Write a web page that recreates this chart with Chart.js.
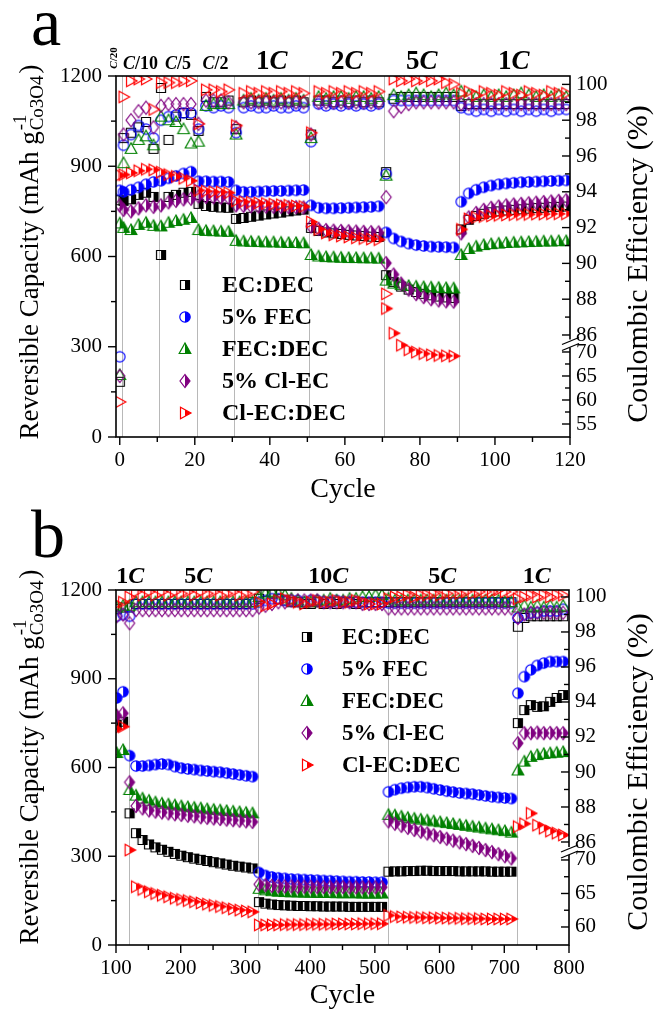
<!DOCTYPE html>
<html>
<head>
<meta charset="utf-8">
<script src="https://cdn.jsdelivr.net/npm/chart.js@4.4.1/dist/chart.umd.min.js"></script>
<style>
  html, body { margin: 0; padding: 0; background: #fff; }
  canvas { display: block; }
</style>
</head>
<body>
<canvas id="chartA" width="657" height="507"></canvas>
<canvas id="chartB" width="657" height="507"></canvas>
<script>
// ---------- data: panel a ----------
const A_CYCLES = [0, 1, 3, 5, 7, 9, 11, 13, 15, 17, 19, 21, 23, 25, 27, 29, 31, 33, 35, 37, 39, 41, 43, 45, 47, 49,
  51, 53, 55, 57, 59, 61, 63, 65, 67, 69, 71, 73, 75, 77, 79, 81, 83, 85, 87, 89,
  91, 93, 95, 97, 99, 101, 103, 105, 107, 109, 111, 113, 115, 117, 119];

const A_CAP_EC_DEC = [787, 785, 790, 805, 812, 798, 605, 798, 805, 812, 815, 775, 768, 765, 763, 762,
  725, 728, 732, 736, 740, 743, 746, 750, 753, 756, 695, 685, 680, 677, 675, 672, 670, 668, 666, 665,
  538, 515, 500, 490, 482, 476, 471, 467, 464, 462,
  690, 722, 735, 742, 747, 750, 753, 755, 757, 759, 761, 762, 764, 765, 766];
const A_CAP_FEC5 = [820, 815, 822, 830, 840, 848, 852, 860, 868, 876, 882, 850, 850, 849, 849, 848,
  820, 815, 815, 816, 817, 818, 818, 819, 820, 821, 770, 762, 760, 760, 761, 762, 763, 764, 765, 767,
  680, 660, 650, 643, 638, 635, 633, 632, 631, 630,
  782, 810, 822, 830, 836, 840, 843, 845, 847, 848, 849, 850, 851, 852, 853];
const A_CAP_FEC_DEC = [710, 695, 688, 705, 712, 702, 700, 712, 718, 722, 728, 688, 685, 684, 683, 682,
  652, 650, 649, 648, 647, 647, 646, 645, 645, 644, 605, 600, 598, 597, 596, 595, 595, 594, 594, 593,
  520, 510, 505, 502, 500, 498, 497, 496, 495, 494,
  605, 625, 633, 638, 641, 643, 645, 646, 647, 648, 649, 650, 650, 651, 651];
const A_CAP_CLEC5 = [770, 755, 750, 760, 770, 765, 770, 780, 785, 790, 792, 800, 798, 797, 796, 795,
  770, 768, 767, 766, 766, 765, 765, 764, 764, 763, 700, 692, 688, 686, 685, 684, 683, 682, 681, 680,
  578, 540, 510, 490, 475, 465, 458, 454, 451, 450,
  677, 730, 745, 755, 762, 766, 770, 773, 775, 777, 779, 781, 783, 785, 787];
const A_CAP_CLEC_DEC = [870, 872, 878, 885, 890, 888, 880, 872, 866, 860, 852, 820, 817, 815, 814, 812,
  785, 782, 780, 778, 776, 774, 772, 770, 768, 766, 715, 690, 678, 672, 668, 665, 662, 660, 658, 656,
  427, 345, 305, 290, 282, 277, 273, 271, 270, 269,
  690, 725, 730, 733, 735, 737, 738, 739, 740, 740, 741, 741, 742, 742, 742];

const A_CE_EC_DEC = [63.8, 97.0, 97.3, 97.6, 97.9, 96.4, 99.8, 96.9, 98.2, 98.4, 98.3, 97.4, 99.3, 99.0, 99.0, 99.1,
  97.5, 99.0, 99.1, 99.0, 99.1, 99.0, 99.1, 99.0, 99.1, 99.0, 97.2, 99.1, 99.1, 99.0, 99.1, 99.0, 99.1, 99.0, 99.1, 99.0,
  95.1, 99.2, 99.3, 99.3, 99.3, 99.3, 99.3, 99.3, 99.3, 99.3,
  98.8, 98.9, 98.9, 98.9, 98.9, 98.9, 98.9, 98.9, 98.9, 98.9, 98.9, 98.9, 98.9, 98.9, 98.9];
const A_CE_FEC5 = [69.0, 96.6, 97.2, 97.7, 97.5, 97.0, 98.0, 98.2, 98.3, 98.4, 98.4, 97.5, 98.8, 98.7, 98.8, 98.7,
  97.3, 98.7, 98.8, 98.7, 98.7, 98.8, 98.7, 98.7, 98.8, 98.7, 96.8, 98.9, 98.8, 98.9, 98.8, 98.9, 98.8, 98.9, 98.8, 98.9,
  95.0, 99.1, 99.1, 99.1, 99.1, 99.1, 99.1, 99.1, 99.1, 99.1,
  98.7, 98.6, 98.5, 98.6, 98.5, 98.6, 98.5, 98.6, 98.5, 98.6, 98.5, 98.6, 98.5, 98.6, 98.6];
const A_CE_FEC_DEC = [65.2, 95.6, 96.4, 96.9, 97.1, 96.6, 98.2, 98.0, 97.9, 97.5, 96.7, 96.8, 98.8, 98.9, 98.9, 98.9,
  97.2, 99.1, 99.2, 99.1, 99.2, 99.1, 99.2, 99.1, 99.2, 99.1, 97.0, 99.3, 99.2, 99.3, 99.3, 99.2, 99.3, 99.3, 99.2, 99.3,
  94.9, 99.4, 99.3, 99.4, 99.5, 99.4, 99.3, 99.4, 99.5, 99.4,
  99.6, 99.4, 99.3, 99.4, 99.3, 99.4, 99.3, 99.4, 99.5, 99.4, 99.3, 99.4, 99.3, 99.4, 99.3];
const A_CE_CLEC5 = [65.0, 97.2, 98.0, 98.5, 98.7, 97.6, 98.8, 98.9, 98.9, 98.9, 98.9, 97.8, 99.1, 99.1, 99.1, 99.0,
  97.6, 99.0, 99.0, 99.0, 99.0, 99.0, 99.0, 99.0, 99.0, 99.0, 97.2, 99.0, 99.0, 99.0, 99.0, 99.0, 99.0, 99.0, 99.0, 99.0,
  93.7, 98.5, 98.75, 98.9, 99.0, 99.0, 99.0, 99.0, 99.0, 99.0,
  98.9, 98.9, 98.9, 98.9, 98.9, 98.9, 98.9, 98.9, 98.9, 98.9, 98.9, 98.9, 98.9, 98.9, 98.9];
const A_CE_CLEC_DEC = [59.6, 99.3, 100.2, 100.3, 100.3, 98.6, 100.1, 100.1, 100.1, 100.2, 100.2, 97.8, 99.7, 99.7, 99.6, 99.7,
  97.7, 99.5, 99.6, 99.5, 99.6, 99.5, 99.6, 99.5, 99.6, 99.5, 97.3, 99.6, 99.5, 99.6, 99.5, 99.6, 99.5, 99.6, 99.5, 99.6,
  88.3, 100.3, 100.2, 100.3, 100.2, 100.3, 100.2, 100.3, 100.1, 100.0,
  99.5, 99.6, 99.4, 99.6, 99.5, 99.4, 99.6, 99.5, 99.4, 99.6, 99.5, 99.4, 99.6, 99.5, 99.5];

const A_X_TICKS = [0, 20, 40, 60, 80, 100, 120];
const A_X_MINOR = [10, 30, 50, 70, 90, 110];
const A_CE_TICKS = [55, 60, 65, 70, 86, 88, 90, 92, 94, 96, 98, 100];
const A_CE_MINOR = [57.5, 62.5, 67.5, 87, 89, 91, 93, 95, 97, 99];
const A_STEPS = [0.5, 10.5, 20.5, 30.5, 50.5, 70.5, 90.5];
const A_RATE_LABELS = ['C/10', 'C/5', 'C/2', '1C', '2C', '5C', '1C'];
const A_RATE_AT = [5.5, 15.5, 25.5, 40.5, 60.5, 80.5, 105];

// ---------- data: panel b ----------
const B_CYCLES = [101, 111,
  121, 131, 141, 151, 161, 171, 181, 191, 201, 211, 221, 231, 241, 251, 261, 271, 281, 291, 301, 311,
  321, 331, 341, 351, 361, 371, 381, 391, 401, 411, 421, 431, 441, 451, 461, 471, 481, 491, 501, 511,
  521, 531, 541, 551, 561, 571, 581, 591, 601, 611, 621, 631, 641, 651, 661, 671, 681, 691, 701, 711,
  721, 731, 741, 751, 761, 771, 781, 791];

const B_CAP_EC_DEC = [745, 755,
  445, 378, 355, 340, 330, 322, 315, 308, 302, 297, 292, 288, 284, 280, 276, 272, 268, 265, 262, 259,
  145, 140, 137, 135, 134, 133, 132, 132, 131, 131, 130, 130, 130, 130, 129, 129, 129, 129, 129, 129,
  248, 249, 249, 250, 250, 251, 251, 250, 250, 250, 250, 249, 249, 249, 249, 249, 248, 248, 248, 248,
  750, 794, 811, 805, 807, 822, 835, 845];
const B_CAP_FEC5 = [835, 856,
  640, 605, 605, 607, 610, 612, 610, 603, 598, 595, 593, 590, 588, 586, 584, 581, 578, 575, 572, 569,
  245, 235, 230, 227, 225, 223, 222, 221, 220, 219, 218, 217, 216, 215, 214, 214, 213, 213, 212, 212,
  518, 525, 530, 533, 535, 535, 532, 528, 524, 520, 517, 514, 512, 510, 507, 504, 501, 499, 497, 495,
  851, 907, 930, 945, 953, 958, 958, 958];
const B_CAP_FEC_DEC = [649, 659,
  524, 505, 495, 488, 482, 478, 475, 472, 469, 466, 464, 462, 459, 457, 455, 453, 451, 449, 447, 445,
  190, 185, 182, 180, 179, 178, 178, 177, 177, 176, 176, 176, 175, 175, 175, 175, 174, 174, 174, 174,
  440, 438, 434, 430, 427, 424, 421, 418, 415, 412, 409, 406, 403, 400, 397, 394, 391, 388, 385, 380,
  590, 620, 636, 642, 646, 648, 650, 652];
const B_CAP_CLEC5 = [775, 783,
  550, 470, 462, 455, 451, 448, 445, 442, 440, 437, 435, 432, 430, 428, 426, 424, 422, 420, 418, 416,
  205, 202, 200, 199, 198, 198, 197, 197, 197, 196, 196, 196, 196, 196, 195, 195, 195, 195, 195, 195,
  418, 410, 403, 396, 389, 383, 377, 371, 365, 359, 353, 347, 341, 335, 328, 321, 314, 307, 300, 293,
  682, 716, 716, 718, 716, 717, 716, 716];
const B_CAP_CLEC_DEC = [730, 738,
  321, 197, 188, 180, 174, 168, 163, 158, 154, 150, 146, 142, 138, 134, 130, 126, 122, 118, 115, 112,
  68, 68, 68, 68, 69, 69, 69, 69, 70, 70, 70, 70, 71, 71, 71, 71, 72, 72, 72, 72,
  100, 96, 95, 94, 93, 93, 92, 92, 91, 91, 90, 90, 89, 89, 89, 88, 88, 88, 88, 88,
  400, 410, 445, 405, 395, 385, 378, 372];

const B_CE_EC_DEC = [99.3, 99.4,
  99.4, 99.6, 99.6, 99.6, 99.6, 99.6, 99.6, 99.6, 99.6, 99.6, 99.6, 99.6, 99.6, 99.6, 99.6, 99.6, 99.6, 99.6, 99.6, 99.7,
  99.9, 100.3, 100.2, 99.9, 99.8, 99.7, 99.7, 99.6, 99.6, 99.7, 99.6, 99.7, 99.6, 99.7, 99.7, 99.6, 99.7, 99.7, 99.7, 99.7,
  99.7, 99.7, 99.7, 99.7, 99.7, 99.7, 99.7, 99.7, 99.7, 99.7, 99.7, 99.7, 99.7, 99.7, 99.7, 99.7, 99.7, 99.7, 99.7, 99.7,
  98.3, 98.8, 98.9, 98.9, 98.9, 98.9, 98.9, 98.9];
const B_CE_FEC5 = [98.9, 99.0,
  98.9, 99.6, 99.6, 99.6, 99.6, 99.6, 99.6, 99.6, 99.6, 99.6, 99.6, 99.6, 99.6, 99.6, 99.6, 99.6, 99.6, 99.6, 99.6, 99.6,
  99.7, 99.8, 99.9, 99.9, 99.8, 99.8, 99.8, 99.7, 99.8, 99.8, 99.7, 99.7, 99.8, 99.7, 99.7, 99.7, 99.7, 99.7, 99.7, 99.7,
  99.65, 99.65, 99.65, 99.65, 99.65, 99.65, 99.65, 99.65, 99.65, 99.65, 99.65, 99.65, 99.65, 99.65, 99.65, 99.65, 99.65, 99.65, 99.65, 99.65,
  98.8, 99.0, 99.1, 99.1, 99.2, 99.2, 99.2, 99.3];
const B_CE_FEC_DEC = [99.4, 99.5,
  99.5, 99.7, 99.7, 99.7, 99.7, 99.7, 99.7, 99.7, 99.7, 99.7, 99.7, 99.7, 99.7, 99.7, 99.7, 99.7, 99.7, 99.7, 99.7, 99.7,
  100.0, 100.2, 100.3, 100.2, 100.1, 99.9, 99.8, 99.7, 99.7, 99.8, 99.8, 99.9, 99.8, 99.8, 99.9, 99.9, 100.0, 100.0, 100.1, 100.1,
  99.9, 99.8, 99.8, 99.8, 99.8, 99.8, 99.8, 99.8, 99.8, 99.8, 99.8, 99.8, 99.8, 99.8, 99.8, 99.8, 99.8, 99.8, 99.7, 99.7,
  99.4, 99.5, 99.4, 99.5, 99.4, 99.5, 99.4, 99.5];
const B_CE_CLEC5 = [98.9, 99.0,
  98.5, 99.25, 99.25, 99.25, 99.25, 99.25, 99.25, 99.25, 99.25, 99.25, 99.25, 99.25, 99.25, 99.25, 99.25, 99.25, 99.25, 99.25, 99.25, 99.25,
  99.4, 99.5, 99.6, 99.7, 99.7, 99.8, 99.8, 99.8, 99.8, 99.8, 99.7, 99.7, 99.7, 99.7, 99.7, 99.7, 99.6, 99.6, 99.6, 99.6,
  99.35, 99.35, 99.35, 99.35, 99.35, 99.35, 99.35, 99.35, 99.35, 99.35, 99.35, 99.35, 99.35, 99.35, 99.35, 99.35, 99.35, 99.35, 99.35, 99.35,
  98.8, 99.0, 99.1, 99.1, 99.1, 99.1, 99.1, 99.1];
const B_CE_CLEC_DEC = [99.6, 99.7,
  100.0, 100.3, 100.1, 100.3, 100.1, 100.3, 100.1, 100.3, 100.2, 100.3, 100.1, 100.3, 100.2, 100.3, 100.1, 100.2, 100.3, 100.1, 100.2, 100.3,
  99.7, 99.5, 99.6, 99.8, 99.9, 99.8, 99.7, 99.6, 99.7, 99.8, 99.7, 99.7, 99.8, 99.7, 99.7, 99.8, 99.7, 99.6, 99.6, 99.6,
  99.9, 100.0, 100.0, 100.1, 100.0, 100.1, 100.1, 100.2, 100.1, 100.2, 100.2, 100.2, 100.3, 100.2, 100.3, 100.3, 100.3, 100.4, 100.3, 100.3,
  99.9, 100.0, 100.1, 100.0, 100.1, 100.0, 100.1, 100.1];

const B_X_TICKS = [100, 200, 300, 400, 500, 600, 700, 800];
const B_X_MINOR = [150, 250, 350, 450, 550, 650, 750];
const B_CE_TICKS = [60, 65, 70, 86, 88, 90, 92, 94, 96, 98, 100];
const B_CE_MINOR = [62.5, 67.5, 87, 89, 91, 93, 95, 97, 99];
const B_STEPS = [120, 320, 520, 720];
const B_RATE_LABELS = ['1C', '5C', '10C', '5C', '1C'];
const B_RATE_AT = [122, 227, 428, 604, 750];

const CAP_TICKS = [0, 300, 600, 900, 1200];
const CAP_MINOR = [150, 450, 750, 1050];

const NAMES = ['EC:DEC', '5% FEC', 'FEC:DEC', '5% Cl-EC', 'Cl-EC:DEC'];
const COLORS = ['#000000', '#0000ff', '#008000', '#800080', '#ff0000'];
const SHAPES = ['rect', 'circle', 'triangle', 'diamond', 'triRight'];

// broken right axis: map efficiency (%) onto the capacity scale
function ceToCapA(v) { return v >= 78 ? 339.1 + (v - 86) * 59.5 : 282.6 - (70 - v) * 15.96; }
function ceToCapB(v) { return v >= 78 ? 348.2 + (v - 86) * 59.16 : 287.4 - (70 - v) * 22.65; }

const SERIF = '"Liberation Serif", "Times New Roman", serif';
Chart.defaults.font.family = SERIF;
Chart.defaults.color = '#000';

// half filled / hollow markers
function marker(shape, color, half) {
  const S = 18, m = S / 2;
  const c = document.createElement('canvas');
  c.width = S; c.height = S;
  const g = c.getContext('2d');
  g.lineWidth = 1.2;
  g.strokeStyle = color;
  g.fillStyle = color;
  const path = () => {
    g.beginPath();
    if (shape === 'rect') g.rect(m - 4.5, m - 4.5, 9, 9);
    else if (shape === 'circle') g.arc(m, m, 5.2, 0, Math.PI * 2);
    else if (shape === 'triangle') { g.moveTo(m, m - 6); g.lineTo(m + 5.8, m + 4.5); g.lineTo(m - 5.8, m + 4.5); }
    else if (shape === 'diamond') { g.moveTo(m, m - 6.5); g.lineTo(m + 5, m); g.lineTo(m, m + 6.5); g.lineTo(m - 5, m); }
    else { g.moveTo(m + 6, m); g.lineTo(m - 4.5, m - 5.8); g.lineTo(m - 4.5, m + 5.8); }
    g.closePath();
  };
  if (half) {
    g.save();
    g.beginPath();
    g.rect(m, 0, S, S);
    g.clip();
    path();
    g.fill();
    g.restore();
  }
  path();
  g.stroke();
  return c;
}

const HALF = SHAPES.map((s, i) => marker(s, COLORS[i], true));
const HOLLOW = SHAPES.map((s, i) => marker(s, COLORS[i], false));

function drawRate(ctx, text, cx, y, size) {
  const parts = text.split(/(C)/).filter(Boolean).map(t => ({ t, it: t === 'C' }));
  let w = 0;
  parts.forEach(p => {
    ctx.font = (p.it ? 'italic bold ' : 'bold ') + size + 'px ' + SERIF;
    p.w = ctx.measureText(p.t).width;
    w += p.w;
  });
  let x = cx - w / 2;
  ctx.textAlign = 'left';
  ctx.textBaseline = 'alphabetic';
  parts.forEach(p => {
    ctx.font = (p.it ? 'italic bold ' : 'bold ') + size + 'px ' + SERIF;
    ctx.fillText(p.t, x, y);
    x += p.w;
  });
}

function leftTitle(ctx, cx, cy) {
  ctx.save();
  ctx.translate(cx, cy);
  ctx.rotate(-Math.PI / 2);
  const big = '27px ' + SERIF, small = '19px ' + SERIF;
  const main = 'Reversible Capacity (mAh g';
  ctx.font = big;
  const wm = ctx.measureText(main).width;
  ctx.font = small;
  const ws = Math.max(ctx.measureText('-1').width, ctx.measureText('Co3O4').width);
  ctx.font = big;
  const wc = ctx.measureText(')').width;
  let x = -(wm + ws + wc + 3) / 2;
  ctx.textAlign = 'left';
  ctx.textBaseline = 'alphabetic';
  ctx.fillText(main, x, 0);
  x += wm + 1;
  ctx.font = small;
  ctx.fillText('-1', x, -12);
  ctx.fillText('Co3O4', x, 5);
  x += ws + 2;
  ctx.font = big;
  ctx.fillText(')', x, 0);
  ctx.restore();
}

const decor = {
  id: 'decor',
  beforeDatasetsDraw(chart, args, o) {
    const { ctx, chartArea: a, scales: { x } } = chart;
    ctx.save();
    ctx.strokeStyle = '#b8b8b8';
    ctx.lineWidth = 1;
    o.steps.forEach(v => {
      const px = Math.round(x.getPixelForValue(v)) + 0.5;
      ctx.beginPath();
      ctx.moveTo(px, a.top);
      ctx.lineTo(px, a.bottom);
      ctx.stroke();
    });
    ctx.restore();
  },
  afterDraw(chart, args, o) {
    const { ctx, chartArea: a, scales: { x, y, y2 } } = chart;
    ctx.save();
    ctx.strokeStyle = '#000';
    ctx.fillStyle = '#000';
    ctx.lineWidth = 1.6;
    ctx.strokeRect(a.left, a.top, a.right - a.left, a.bottom - a.top);

    const tick = (x1, y1, x2, y2p) => { ctx.beginPath(); ctx.moveTo(x1, y1); ctx.lineTo(x2, y2p); ctx.stroke(); };
    ctx.lineWidth = 1.4;
    CAP_TICKS.forEach(v => { const p = y.getPixelForValue(v); tick(a.left - 8, p, a.left, p); });
    CAP_MINOR.forEach(v => { const p = y.getPixelForValue(v); tick(a.left - 5, p, a.left, p); });
    o.xTicks.forEach(v => { const p = x.getPixelForValue(v); tick(p, a.bottom, p, a.bottom + 8); });
    o.xMinor.forEach(v => { const p = x.getPixelForValue(v); tick(p, a.bottom, p, a.bottom + 5); });
    o.ceTicks.forEach(v => { const p = y2.getPixelForValue(o.ceToCap(v)); tick(a.right - 8, p, a.right, p); });
    o.ceMinor.forEach(v => { const p = y2.getPixelForValue(o.ceToCap(v)); tick(a.right - 5, p, a.right, p); });

    // axis break on the right
    const by = y2.getPixelForValue((o.ceToCap(86) + o.ceToCap(70)) / 2);
    ctx.fillStyle = '#fff';
    ctx.fillRect(a.right - 3, by - 4, 6, 8);
    ctx.fillStyle = '#000';
    ctx.lineWidth = 1.3;
    tick(a.right - 8, by + 1, a.right + 9, by - 6);
    tick(a.right - 8, by + 7, a.right + 9, by);

    // rate labels above the plot
    o.rateLabels.forEach((t, i) => {
      const size = t.includes('/') ? 18 : o.rateSize;
      drawRate(ctx, t, x.getPixelForValue(o.rateAt[i]), o.rateY, size);
    });
    if (o.firstRate) {
      ctx.save();
      ctx.translate(117, 58);
      ctx.rotate(-Math.PI / 2);
      drawRate(ctx, o.firstRate, 0, 0, 11);
      ctx.restore();
    }

    // panel letter
    ctx.font = '68px ' + SERIF;
    ctx.textAlign = 'left';
    ctx.textBaseline = 'alphabetic';
    ctx.fillText(o.letter, 31, o.letterY);

    // legend
    const L = o.legend;
    NAMES.forEach((n, i) => {
      const yy = L.y0 + i * L.dy;
      const img = HALF[i];
      ctx.drawImage(img, L.x - img.width / 2, yy - img.height / 2);
      ctx.font = 'bold ' + L.size + 'px ' + SERIF;
      ctx.textBaseline = 'middle';
      ctx.fillText(n, L.tx, yy + 1);
    });

    // axis titles
    leftTitle(ctx, 38, o.leftTitleY);
    ctx.save();
    ctx.translate(647, o.rightTitleY);
    ctx.rotate(-Math.PI / 2);
    ctx.font = '30px ' + SERIF;
    ctx.textAlign = 'center';
    ctx.textBaseline = 'alphabetic';
    ctx.fillText('Coulombic Efficiency (%)', 0, 0);
    ctx.restore();
    ctx.font = '28px ' + SERIF;
    ctx.textAlign = 'center';
    ctx.textBaseline = 'alphabetic';
    ctx.fillText('Cycle', (a.left + a.right) / 2, o.cycleY);
    ctx.restore();
  }
};

function makePanel(p) {
  const datasets = [];
  const order = [4, 3, 2, 1, 0];
  order.forEach(i => datasets.push({
    label: NAMES[i] + ' CE',
    data: p.cycles.map((c, k) => ({ x: c, y: p.ceToCap(p.ce[i][k]) })),
    pointStyle: HOLLOW[i],
    pointRadius: 6,
    showLine: false
  }));
  order.forEach(i => datasets.push({
    label: NAMES[i],
    data: p.cycles.map((c, k) => ({ x: c, y: p.cap[i][k] })),
    pointStyle: HALF[i],
    pointRadius: 6,
    showLine: false
  }));

  const tickFont = { family: SERIF, size: 21 };
  return new Chart(document.getElementById(p.id), {
    type: 'scatter',
    data: { datasets },
    plugins: [decor],
    options: {
      responsive: false,
      animation: false,
      events: [],
      layout: { padding: { top: p.box.top, left: 0, right: 0, bottom: 0 } },
      plugins: {
        legend: { display: false },
        tooltip: { enabled: false },
        decor: {
          steps: p.steps, xTicks: p.xTicks, xMinor: p.xMinor,
          ceTicks: p.ceTicks, ceMinor: p.ceMinor, ceToCap: p.ceToCap,
          rateLabels: p.rateLabels, rateAt: p.rateAt, rateY: p.rateY, rateSize: p.rateSize,
          firstRate: p.firstRate, letter: p.letter, letterY: p.letterY, legend: p.legend,
          leftTitleY: p.leftTitleY, rightTitleY: p.rightTitleY, cycleY: p.cycleY
        }
      },
      scales: {
        x: {
          type: 'linear', min: p.xMin, max: p.xMax,
          afterBuildTicks: s => { s.ticks = p.xTicks.map(v => ({ value: v })); },
          afterFit: s => { s.height = 507 - p.box.bottom; },
          grid: { display: false, drawTicks: false },
          border: { display: false },
          ticks: { font: tickFont, color: '#000', padding: 11, maxRotation: 0, autoSkip: false,
            callback: v => String(v) }
        },
        y: {
          position: 'left', min: 0, max: 1200,
          afterBuildTicks: s => { s.ticks = CAP_TICKS.map(v => ({ value: v })); },
          afterFit: s => { s.width = p.box.left; },
          grid: { display: false, drawTicks: false },
          border: { display: false },
          ticks: { font: tickFont, color: '#000', padding: 14, autoSkip: false,
            callback: v => String(v) }
        },
        y2: {
          position: 'right', min: 0, max: 1200,
          afterBuildTicks: s => { s.ticks = p.ceTicks.map(v => ({ value: p.ceToCap(v) })); },
          afterFit: s => { s.width = 657 - p.box.right; },
          grid: { display: false, drawTicks: false },
          border: { display: false },
          ticks: { font: tickFont, color: '#000', padding: 6, autoSkip: false,
            callback: (v, i) => String(p.ceTicks[i]) }
        }
      }
    }
  });
}

makePanel({
  id: 'chartA',
  cycles: A_CYCLES,
  cap: [A_CAP_EC_DEC, A_CAP_FEC5, A_CAP_FEC_DEC, A_CAP_CLEC5, A_CAP_CLEC_DEC],
  ce: [A_CE_EC_DEC, A_CE_FEC5, A_CE_FEC_DEC, A_CE_CLEC5, A_CE_CLEC_DEC],
  ceToCap: ceToCapA,
  xMin: -1, xMax: 120, xTicks: A_X_TICKS, xMinor: A_X_MINOR,
  ceTicks: A_CE_TICKS, ceMinor: A_CE_MINOR, steps: A_STEPS,
  box: { top: 76, bottom: 437, left: 116, right: 570 },
  rateLabels: A_RATE_LABELS, rateAt: A_RATE_AT, rateY: 69, rateSize: 27, firstRate: 'C/20',
  letter: 'a', letterY: 45,
  legend: { x: 185, tx: 222, y0: 285, dy: 32, size: 24 },
  leftTitleY: 252, rightTitleY: 264, cycleY: 497
});

makePanel({
  id: 'chartB',
  cycles: B_CYCLES,
  cap: [B_CAP_EC_DEC, B_CAP_FEC5, B_CAP_FEC_DEC, B_CAP_CLEC5, B_CAP_CLEC_DEC],
  ce: [B_CE_EC_DEC, B_CE_FEC5, B_CE_FEC_DEC, B_CE_CLEC5, B_CE_CLEC_DEC],
  ceToCap: ceToCapB,
  xMin: 100, xMax: 800, xTicks: B_X_TICKS, xMinor: B_X_MINOR,
  ceTicks: B_CE_TICKS, ceMinor: B_CE_MINOR, steps: B_STEPS,
  box: { top: 83, bottom: 438, left: 116, right: 569 },
  rateLabels: B_RATE_LABELS, rateAt: B_RATE_AT, rateY: 76, rateSize: 24, firstRate: null,
  letter: 'b', letterY: 50,
  legend: { x: 307, tx: 342, y0: 130, dy: 32, size: 23 },
  leftTitleY: 250, rightTitleY: 265, cycleY: 496
});
</script>
</body>
</html>
